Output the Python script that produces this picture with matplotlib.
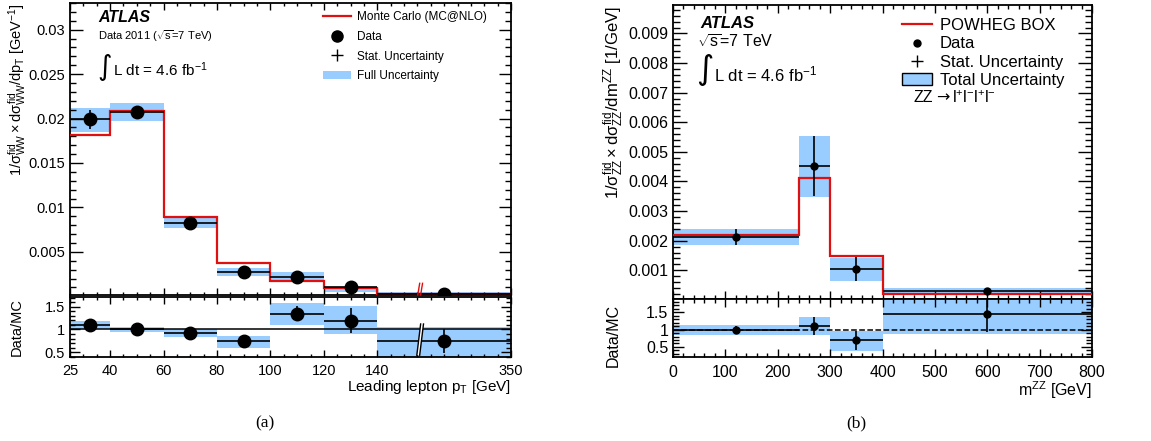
import numpy as np
import matplotlib
matplotlib.use("Agg")
import matplotlib.pyplot as plt
from matplotlib.ticker import FixedLocator, MultipleLocator, NullFormatter
from matplotlib.patches import Patch
from matplotlib.lines import Line2D
import matplotlib.transforms as mtrans

# ---------------- data: panel (a) WW leading lepton pT ----------------
ww_edges = [25, 40, 60, 80, 100, 120, 140, 350]
ww_mc = [0.0181, 0.0209, 0.0089, 0.0037, 0.0017, 0.0009, 0.0003]
ww_data = [0.0199, 0.0207, 0.0082, 0.00275, 0.0022, 0.0010, 0.0003]
ww_stat = [0.0011, 0.0007, 0.0003, 0.0002, 0.0002, 0.0001, 0.00005]
ww_band_lo = [0.0185, 0.0197, 0.0077, 0.0023, 0.0018, 0.0005, 0.0001]
ww_band_hi = [0.0212, 0.0217, 0.0089, 0.0032, 0.0027, 0.0011, 0.00045]
ww_ratio = [1.11, 1.00, 0.925, 0.74, 1.35, 1.195, 0.74]
ww_ratio_stat = [0.05, 0.03, 0.04, 0.05, 0.16, 0.28, 0.27]
ww_ratio_lo = [1.01, 0.95, 0.835, 0.59, 1.105, 0.89, 0.30]
ww_ratio_hi = [1.195, 1.06, 1.015, 0.85, 1.59, 1.53, 1.06]
ww_xticks = [25, 40, 60, 80, 100, 120, 140, 350]

# ---------------- data: panel (b) ZZ mass ----------------
zz_edges = [0, 240, 300, 400, 800]
zz_mc = [0.00218, 0.00412, 0.00149, 0.00021]
zz_data = [0.00212, 0.00452, 0.00104, 0.00030]
zz_stat = [0.00027, 0.00102, 0.00040, 0.00005]
zz_band_lo = [0.00185, 0.00346, 0.00063, 0.00020]
zz_band_hi = [0.00241, 0.00554, 0.00143, 0.00039]
zz_ratio = [0.98, 1.11, 0.69, 1.46]
zz_ratio_stat = [0.12, 0.26, 0.27, 0.54]
zz_ratio_lo = [0.835, 0.835, 0.37, 0.88]
zz_ratio_hi = [1.13, 1.37, 0.95, 2.0]

BAND = "#99ccff"
RED = "#e01010"

plt.rcParams["font.family"] = ["Liberation Sans", "DejaVu Sans"]
plt.rcParams["mathtext.fontset"] = "custom"
plt.rcParams["mathtext.rm"] = "Liberation Sans"
plt.rcParams["mathtext.it"] = "Liberation Sans"
plt.rcParams["mathtext.sf"] = "Liberation Sans"
plt.rcParams["mathtext.bf"] = "Liberation Sans:bold"

W, H = 1151, 441
dpi = 100
fig = plt.figure(figsize=(W / dpi, H / dpi), dpi=dpi)


def rect(x0, y0, x1, y1):
    # pixel box -> figure fraction
    return [x0 / W, 1 - y1 / H, (x1 - x0) / W, (y1 - y0) / H]


def style(ax, labelsize, major=7, minor=3.5):
    ax.tick_params(which="both", direction="in", top=True, right=True,
                   labelsize=labelsize, width=1)
    ax.tick_params(which="major", length=major)
    ax.tick_params(which="minor", length=minor)
    for s in ax.spines.values():
        s.set_linewidth(1.3)


def draw_hist(ax, edges, mc, data, stat, lo, hi, ms):
    e = np.array(edges, dtype=float)
    lo = np.array(lo)
    hi = np.array(hi)
    ax.bar(e[:-1], hi - lo, bottom=lo, width=np.diff(e), align="edge",
           color=BAND, lw=0, zorder=1)
    ax.stairs(mc, e, color=RED, lw=1.6, baseline=None, zorder=3)
    c = 0.5 * (e[:-1] + e[1:])
    ax.errorbar(c, data, yerr=stat, xerr=[c - e[:-1], e[1:] - c], fmt="o",
                color="black", ms=ms, elinewidth=1.2, capsize=0, zorder=4)


def draw_ratio(ax, edges, r, stat, lo, hi, ms, ls):
    e = np.array(edges, dtype=float)
    lo = np.array(lo)
    hi = np.array(hi)
    ax.bar(e[:-1], hi - lo, bottom=lo, width=np.diff(e), align="edge",
           color=BAND, lw=0, zorder=1)
    ax.axhline(1, color="black", lw=1.1, ls=ls, zorder=2)
    c = 0.5 * (e[:-1] + e[1:])
    ax.errorbar(c, r, yerr=stat, xerr=[c - e[:-1], e[1:] - c], fmt="o",
                color="black", ms=ms, elinewidth=1.2, capsize=0, zorder=4)


# ================= panel (a) =================
def fwd(x):
    x = np.asarray(x, dtype=float)
    return np.where(x <= 140, x, 140 + (x - 140) * 50.0 / 210.0)


def inv(y):
    y = np.asarray(y, dtype=float)
    return np.where(y <= 140, y, 140 + (y - 140) * 210.0 / 50.0)


axa = fig.add_axes(rect(70, 3, 511, 295))
axa_r = fig.add_axes(rect(70, 297, 511, 357))
for ax in (axa, axa_r):
    ax.set_xscale("function", functions=(fwd, inv))
    ax.set_xlim(25, 350)
    ax.xaxis.set_major_locator(FixedLocator(ww_xticks))
    ax.xaxis.set_minor_locator(FixedLocator(list(range(30, 140, 5)) +
                                            list(range(161, 350, 21))))

draw_hist(axa, ww_edges, ww_mc, ww_data, ww_stat, ww_band_lo, ww_band_hi, 9)
axa.set_ylim(0.00015, 0.033)
axa.yaxis.set_major_locator(FixedLocator([0.005, 0.01, 0.015, 0.02, 0.025, 0.03]))
axa.yaxis.set_major_formatter(plt.FuncFormatter(lambda v, p: f"{v:g}"))
axa.yaxis.set_minor_locator(MultipleLocator(0.001))
axa.xaxis.set_major_formatter(NullFormatter())
style(axa, 10.5, major=9, minor=4.5)
axa.tick_params(axis="x", which="major", length=5)
axa.tick_params(axis="x", which="minor", length=2.5)

draw_ratio(axa_r, ww_edges, ww_ratio, ww_ratio_stat, ww_ratio_lo, ww_ratio_hi, 9, "-")
axa_r.set_ylim(0.39, 1.72)
axa_r.yaxis.set_major_locator(FixedLocator([0.5, 1, 1.5]))
axa_r.yaxis.set_major_formatter(plt.FuncFormatter(lambda v, p: f"{v:g}"))
axa_r.yaxis.set_minor_locator(MultipleLocator(0.1))
style(axa_r, 10.5, major=7, minor=3.5)
axa_r.tick_params(axis="x", which="major", length=5, pad=5)
axa_r.tick_params(axis="x", which="minor", length=2.5)

# axis break marks ("//")
brk = 205
tr = mtrans.blended_transform_factory(axa_r.transData, axa_r.transAxes)
axa_r.fill([brk - 3, brk + 1.5, brk + 7.5, brk + 3],
           [0.03, 0.03, 0.55, 0.55], color="white", transform=tr, zorder=5,
           lw=0)
for dx in (0, 4.5):
    axa_r.plot([brk - 3 + dx, brk + 3 + dx], [0.03, 0.55], color="black", lw=1,
               transform=tr, zorder=6, clip_on=False)
tr = mtrans.blended_transform_factory(axa.transData, axa.transAxes)
for dx in (0, 4.5):
    axa.plot([brk - 1.5 + dx, brk + 1.5 + dx], [0.0, 0.04], color=RED, lw=1,
             transform=tr, zorder=6, clip_on=False)

fig.text(17 / W, 1 - 3 / H,
         r"$1/\sigma^{\rm fid}_{\rm WW}\times d\sigma^{\rm fid}_{\rm WW}/dp_{\rm T}$ [GeV$^{-1}$]",
         rotation=90, ha="center", va="top", fontsize=10.5)
fig.text(17 / W, 1 - 327 / H, "Data/MC", rotation=90, ha="center", va="center",
         fontsize=10.5)
fig.text(511 / W, 1 - 387 / H, r"Leading lepton p$_{\rm T}$ [GeV]", ha="right",
         va="center", fontsize=11)
fig.text(265 / W, 1 - 423 / H, "(a)", family="Liberation Serif", ha="center",
         va="center", fontsize=12.5)

fig.text(98 / W, 1 - 18 / H, "ATLAS", weight="bold", style="italic",
         fontsize=11.5, va="center")
fig.text(98 / W, 1 - 36 / H, r"Data 2011 ($\sqrt{\rm s}$=7 TeV)", fontsize=8,
         va="center")
fig.text(97 / W, 1 - 67 / H, "\u222b", family="DejaVu Sans", fontsize=20,
         va="center")
fig.text(113 / W, 1 - 70 / H, r"L dt = 4.6 fb$^{-1}$", fontsize=11, va="center")

h_a = [Line2D([], [], color=RED, lw=1.6),
       Line2D([], [], color="black", marker="o", ls="none", ms=8),
       Line2D([], [], color="black", marker="+", ls="none", ms=9),
       Patch(facecolor=BAND, edgecolor="none")]
axa.legend(h_a, ["Monte Carlo (MC@NLO)", "Data", "Stat. Uncertainty",
                 "Full Uncertainty"],
           loc="upper left", bbox_to_anchor=(0.555, 1.0), frameon=False,
           fontsize=8.5, handlelength=2.4, labelspacing=0.65, handletextpad=0.5,
           borderaxespad=0.3)

# ================= panel (b) =================
axb = fig.add_axes(rect(673, 5, 1092, 299))
axb_r = fig.add_axes(rect(673, 299, 1092, 357))
for ax in (axb, axb_r):
    ax.set_xlim(0, 800)
    ax.xaxis.set_major_locator(MultipleLocator(100))
    ax.xaxis.set_minor_locator(MultipleLocator(20))

draw_hist(axb, zz_edges, zz_mc, zz_data, zz_stat, zz_band_lo, zz_band_hi, 5)
axb.set_ylim(0.00003, 0.00996)
axb.yaxis.set_major_locator(MultipleLocator(0.001))
axb.yaxis.set_major_formatter(plt.FuncFormatter(
    lambda v, p: f"{v:.3f}" if v > 0.0005 else ""))
axb.yaxis.set_minor_locator(MultipleLocator(0.0002))
axb.xaxis.set_major_formatter(NullFormatter())
style(axb, 11.5, major=10, minor=5)
axb.tick_params(axis="x", which="major", length=6)
axb.tick_params(axis="x", which="minor", length=3)

draw_ratio(axb_r, zz_edges, zz_ratio, zz_ratio_stat, zz_ratio_lo, zz_ratio_hi, 5, "--")
axb_r.set_ylim(0.21, 1.88)
axb_r.yaxis.set_major_locator(FixedLocator([0.5, 1, 1.5]))
axb_r.yaxis.set_major_formatter(plt.FuncFormatter(lambda v, p: f"{v:g}"))
axb_r.yaxis.set_minor_locator(MultipleLocator(0.1))
style(axb_r, 11.5, major=8, minor=4)
axb_r.tick_params(axis="x", which="major", length=6, pad=6)
axb_r.tick_params(axis="x", which="minor", length=3)

fig.text(614 / W, 1 - 6 / H,
         r"$1/\sigma^{\rm fid}_{\rm ZZ}\times d\sigma^{\rm fid}_{\rm ZZ}/dm^{\rm ZZ}$ [1/GeV]",
         rotation=90, ha="center", va="top", fontsize=12)
fig.text(613 / W, 1 - 335 / H, "Data/MC", rotation=90, ha="center", va="center",
         fontsize=11.5)
fig.text(1092 / W, 1 - 390 / H, r"m$^{\rm ZZ}$ [GeV]", ha="right", va="center",
         fontsize=11.5)
fig.text(856 / W, 1 - 423 / H, "(b)", family="Liberation Serif", ha="center",
         va="center", fontsize=12.5)

fig.text(700 / W, 1 - 23 / H, "ATLAS", weight="bold", style="italic",
         fontsize=12, va="center")
fig.text(697 / W, 1 - 42 / H, r"$\sqrt{\rm s}$=7 TeV", fontsize=11.5, va="center")
fig.text(696 / W, 1 - 70 / H, "\u222b", family="DejaVu Sans", fontsize=24,
         va="center")
fig.text(714 / W, 1 - 74 / H, r"L dt = 4.6 fb$^{-1}$", fontsize=12, va="center")
fig.text(913 / W, 1 - 98 / H, "ZZ", fontsize=11.5, va="center")
fig.text(936 / W, 1 - 98 / H, "\u2192", family="DejaVu Sans", fontsize=11.5,
         va="center")
fig.text(952 / W, 1 - 98 / H, r"l$^{+}$l$^{-}$l$^{+}$l$^{-}$", fontsize=11.5,
         va="center")

h_b = [Line2D([], [], color=RED, lw=1.6),
       Line2D([], [], color="black", marker="o", ls="none", ms=5),
       Line2D([], [], color="black", marker="+", ls="none", ms=8),
       Patch(facecolor=BAND, edgecolor="black", lw=1)]
axb.legend(h_b, ["POWHEG BOX", "Data", "Stat. Uncertainty", "Total Uncertainty"],
           loc="upper left", bbox_to_anchor=(0.518, 0.995), frameon=False,
           fontsize=12, handlelength=1.8, labelspacing=0.2, handletextpad=0.5,
           borderaxespad=0.3)

fig.savefig("out.png", dpi=dpi)
